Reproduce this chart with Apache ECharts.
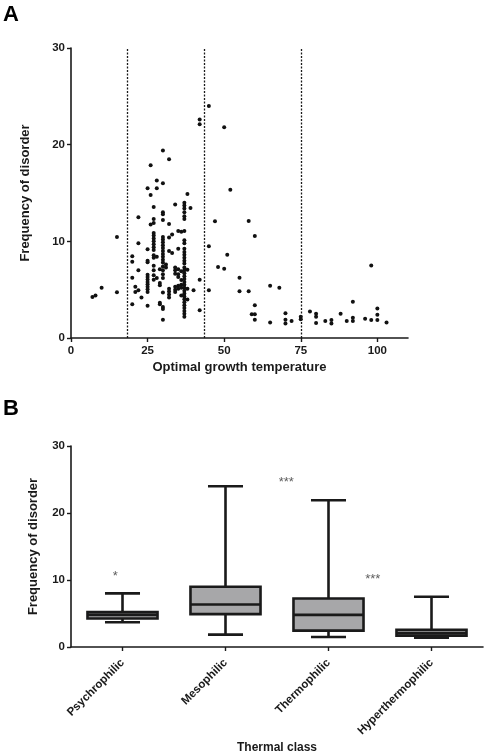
<!DOCTYPE html>
<html>
<head>
<meta charset="utf-8">
<script src="https://cdn.jsdelivr.net/npm/echarts@6/dist/echarts.min.js"></script>
<style>html,body{margin:0;padding:0;background:#fff}#c{width:486px;height:756px}</style>
</head>
<body>
<div id="c"></div>
<script>
// ---- Panel A: scatter data (optimal growth temperature vs frequency of disorder)
const growthTemp = [
  7, 8, 10, 15, 15,
  20, 20, 20, 20, 21, 21, 22, 22, 22, 22, 23,
  25, 25, 25, 25, 25, 25, 25, 25, 25, 25, 25, 25, 25,
  26, 26, 26,
  27, 27, 27, 27, 27, 27, 27, 27, 27, 27, 27, 27, 27, 27, 27, 27,
  28, 28, 28, 28,
  29, 29, 29, 29, 29,
  30, 30, 30, 30, 30, 30, 30, 30, 30, 30, 30, 30, 30, 30, 30, 30, 30, 30, 30, 30, 30, 30, 30,
  31, 31,
  32, 32, 32, 32, 32, 32, 32, 32,
  33, 33,
  34, 34, 34, 34, 34, 34, 34,
  35, 35, 35, 35, 35, 35, 35,
  36, 36, 36, 36, 36, 36,
  37, 37, 37, 37, 37, 37, 37, 37, 37, 37, 37, 37, 37, 37, 37, 37, 37, 37, 37, 37, 37, 37, 37, 37, 37, 37, 37, 37, 37, 37, 37, 37, 37,
  38, 38, 38, 38, 39, 40, 42, 42, 42, 42,
  45, 45, 45, 47, 48, 50, 50, 51, 52, 55, 55, 58, 58, 59, 60, 60, 60, 60,
  65, 65, 68, 70, 70, 70, 72,
  75, 75, 78, 80, 80, 80, 83, 85, 85, 88, 90, 92, 92, 92, 96, 98, 98, 100, 100, 100, 103
];
const disorderFreq = [
  4.25, 4.4, 5.2, 10.45, 4.72,
  8.45, 7.9, 6.24, 3.48, 5.3, 4.75, 12.5, 9.8, 7.0, 4.95, 4.2,
  15.5, 9.17, 8.0, 7.83, 6.55, 6.3, 6.05, 5.8, 5.55, 5.3, 5.05, 4.76, 3.34,
  17.86, 14.8, 11.75,
  13.55, 12.3, 11.9, 10.86, 10.6, 10.3, 10.0, 9.7, 9.4, 9.1, 8.55, 8.3, 7.48, 7.0, 6.5, 6.03,
  16.3, 15.5, 8.4, 6.2,
  7.1, 5.7, 5.45, 3.65, 3.5,
  19.4, 16.0, 13.0, 12.8, 12.2, 10.45, 10.2, 9.9, 9.6, 9.3, 9.0, 8.7, 8.4, 8.1, 7.8, 7.4, 7.0, 6.6, 6.2, 4.7, 3.2, 3.0, 1.9,
  7.6, 7.3,
  18.5, 11.8, 10.4, 9.0, 5.1, 4.8, 4.5, 4.2,
  10.7, 8.8,
  13.8, 7.3, 7.0, 6.65, 5.3, 5.0, 4.75,
  11.07, 9.24, 7.1, 6.6, 6.3, 5.4, 5.1,
  11.0, 6.9, 6.0, 5.5, 5.2, 4.4,
  14.0, 13.7, 13.4, 13.0, 12.6, 12.3, 11.07, 10.1, 9.8, 9.24, 8.9, 8.6, 8.3, 8.0, 7.7, 7.3, 7.0, 6.7, 6.4, 6.1, 5.8, 5.5, 5.2, 4.9, 4.6, 4.3, 4.0, 3.7, 3.4, 3.1, 2.8, 2.5, 2.2,
  14.9, 7.07, 5.1, 3.97, 13.45, 4.93, 22.6, 22.1, 6.03, 2.86,
  24.0, 9.48, 4.93, 12.07, 7.34, 21.8, 7.17, 8.62, 15.34, 6.24, 4.83, 12.1, 4.83, 2.45, 10.55, 3.38, 2.45, 1.9,
  5.4, 1.6, 5.2, 2.55, 1.9, 1.5, 1.75,
  2.2, 1.95, 2.75, 2.5, 2.2, 1.55, 1.75, 1.85, 1.5, 2.5, 1.75, 3.75, 2.1, 1.75, 2.0, 7.5, 1.85, 3.05, 2.4, 1.85, 1.6
];
const classBoundaries = [18.5, 43.5, 75];
const tempTicks = [0, 25, 50, 75, 100];

// ---- Panel B: box plot summary per thermal class
const thermalClasses = ['Psychrophilic', 'Mesophilic', 'Thermophilic', 'Hyperthermophilic'];
const boxMin    = [3.7, 1.85, 1.5, 1.4];
const boxQ1     = [4.25, 4.9, 2.45, 1.7];
const boxMedian = [4.8, 6.35, 4.8, 2.05];
const boxQ3     = [5.2, 9.0, 7.25, 2.55];
const boxMax    = [8.0, 24.0, 21.9, 7.5];
const freqTicks = [0, 10, 20, 30];
const starText = ['*', '***', '***'];
const starPos  = [0.43, 2.09, 2.93];
const starVal  = [10.5, 24.6, 10.1];

const FONT = '"Liberation Sans", Arial, sans-serif';
const INK = '#1a1a1a';

const scatterData = growthTemp.map((t, i) => [t, disorderFreq[i]]);
const boxData = thermalClasses.map((c, i) => [i, boxMin[i], boxQ1[i], boxMedian[i], boxQ3[i], boxMax[i]]);
const starData = starText.map((s, i) => ({ value: [starPos[i], starVal[i]], label: { formatter: s } }));

const axisCommon = {
  axisLine: { show: true, lineStyle: { color: INK, width: 1.6 } },
  axisTick: { show: true, inside: false, length: 4, lineStyle: { color: INK, width: 1.4 } },
  axisLabel: { color: INK, fontFamily: FONT, fontWeight: 'bold', fontSize: 11.5 },
  splitLine: { show: false },
  nameTextStyle: { color: INK, fontFamily: FONT, fontWeight: 'bold', fontSize: 13 }
};

const chart = echarts.init(document.getElementById('c'), null, { renderer: 'canvas' });
chart.setOption({
  animation: false,
  backgroundColor: '#ffffff',
  graphic: [
    { type: 'text', left: 3, top: 4, style: { text: 'A', font: 'bold 22px ' + FONT, fill: '#000' } },
    { type: 'text', left: 3, top: 398, style: { text: 'B', font: 'bold 22px ' + FONT, fill: '#000' } }
  ],
  grid: [
    { left: 71, right: 78, top: 48, bottom: 418, containLabel: false },
    { left: 71, right: 3, top: 446, bottom: 109, containLabel: false }
  ],
  xAxis: [
    Object.assign({}, axisCommon, {
      type: 'value', gridIndex: 0, min: 0, max: 110, interval: 25,
      name: 'Optimal growth temperature', nameLocation: 'middle', nameGap: 23,
      axisLabel: Object.assign({}, axisCommon.axisLabel, {
        margin: 7,
        formatter: v => (tempTicks.indexOf(v) >= 0 ? String(v) : '')
      }),
      axisTick: Object.assign({}, axisCommon.axisTick, { customValues: tempTicks }),
    }),
    Object.assign({}, axisCommon, {
      type: 'category', gridIndex: 1, data: thermalClasses, boundaryGap: true,
      name: 'Thermal class', nameLocation: 'middle', nameGap: 95,
      nameTextStyle: Object.assign({}, axisCommon.nameTextStyle, { fontSize: 12 }),
      axisTick: Object.assign({}, axisCommon.axisTick, { alignWithLabel: true }),
      axisLabel: Object.assign({}, axisCommon.axisLabel, { rotate: 45, margin: 14, interval: 0, fontSize: 11.5 })
    }),
    { type: 'value', gridIndex: 1, min: 0, max: 4, show: false }
  ],
  yAxis: [
    Object.assign({}, axisCommon, {
      type: 'value', gridIndex: 0, min: 0, max: 30, interval: 10,
      name: 'Frequency of disorder', nameLocation: 'middle', nameGap: 39,
      axisLabel: Object.assign({}, axisCommon.axisLabel, { margin: 6 })
    }),
    Object.assign({}, axisCommon, {
      type: 'value', gridIndex: 1, min: 0, max: 30, interval: 10,
      name: 'Frequency of disorder', nameLocation: 'middle', nameGap: 31,
      axisLabel: Object.assign({}, axisCommon.axisLabel, { margin: 6 })
    })
  ],
  series: [
    {
      type: 'scatter', xAxisIndex: 0, yAxisIndex: 0,
      data: scatterData, symbol: 'circle', symbolSize: 4,
      itemStyle: { color: '#111', opacity: 1 },
      markLine: {
        silent: true, symbol: ['none', 'none'], label: { show: false },
        lineStyle: { color: INK, type: [2, 1.5], width: 1.3 },
        data: classBoundaries.map(b => [{ coord: [b, 0] }, { coord: [b, 30] }])
      }
    },
    {
      type: 'custom', xAxisIndex: 1, yAxisIndex: 1,
      data: boxData,
      renderItem: function (params, api) {
        const idx = api.value(0);
        const band = api.size([1, 0])[0];
        const boxW = band * 0.68, capW = band * 0.34;
        const cx = api.coord([idx, 0])[0];
        const yMin = api.coord([idx, api.value(1)])[1];
        const yQ1 = api.coord([idx, api.value(2)])[1];
        const yMed = api.coord([idx, api.value(3)])[1];
        const yQ3 = api.coord([idx, api.value(4)])[1];
        const yMax = api.coord([idx, api.value(5)])[1];
        const ls = { stroke: INK, lineWidth: 2.6, fill: null };
        return {
          type: 'group',
          children: [
            { type: 'line', shape: { x1: cx, y1: yQ3, x2: cx, y2: yMax }, style: ls },
            { type: 'line', shape: { x1: cx, y1: yQ1, x2: cx, y2: yMin }, style: ls },
            { type: 'line', shape: { x1: cx - capW / 2, y1: yMax, x2: cx + capW / 2, y2: yMax }, style: ls },
            { type: 'line', shape: { x1: cx - capW / 2, y1: yMin, x2: cx + capW / 2, y2: yMin }, style: ls },
            { type: 'rect', shape: { x: cx - boxW / 2, y: yQ3, width: boxW, height: yQ1 - yQ3 },
              style: { fill: '#a7a7a9', stroke: INK, lineWidth: 2.6 } },
            { type: 'line', shape: { x1: cx - boxW / 2, y1: yMed, x2: cx + boxW / 2, y2: yMed }, style: ls }
          ]
        };
      }
    },
    {
      type: 'scatter', xAxisIndex: 2, yAxisIndex: 1,
      data: starData, symbolSize: 0, silent: true,
      label: { show: true, position: 'inside', color: '#333', fontFamily: FONT, fontSize: 13 }
    }
  ]
});
</script>
</body>
</html>
